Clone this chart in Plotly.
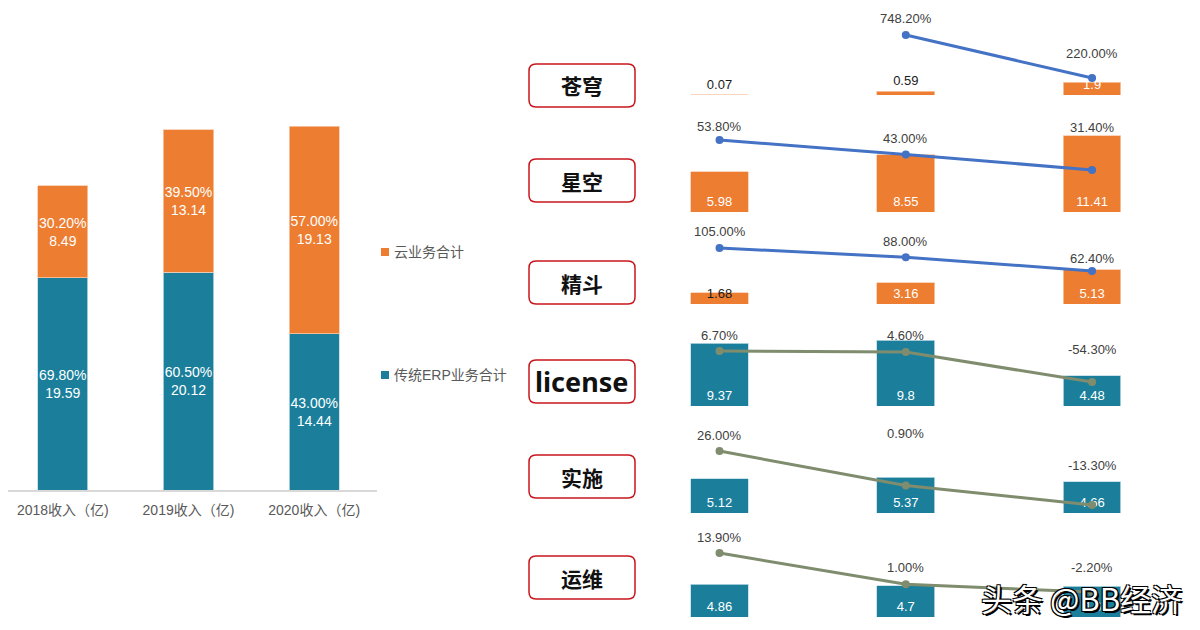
import plotly.graph_objects as go

# ---- left: stacked revenue bars ----
years = ["2018收入（亿)", "2019收入（亿)", "2020收入（亿)"]
erp_rev = [19.59, 20.12, 14.44]
erp_pct = ["69.80%", "60.50%", "43.00%"]
cloud_rev = [8.49, 13.14, 19.13]
cloud_pct = ["30.20%", "39.50%", "57.00%"]
legend_names = ["云业务合计", "传统ERP业务合计"]

# ---- right: product lines ----
products = ["苍穹", "星空", "精斗", "license", "实施", "运维"]
periods = ["2018", "2019", "2020"]
cangqiong_rev = [0.07, 0.59, 1.9]
cangqiong_growth = [None, 748.2, 220.0]
xingkong_rev = [5.98, 8.55, 11.41]
xingkong_growth = [53.8, 43.0, 31.4]
jingdou_rev = [1.68, 3.16, 5.13]
jingdou_growth = [105.0, 88.0, 62.4]
license_rev = [9.37, 9.8, 4.48]
license_growth = [6.7, 4.6, -54.3]
shishi_rev = [5.12, 5.37, 4.66]
shishi_growth = [26.0, 0.9, -13.3]
yunwei_rev = [4.86, 4.7, 4.6]
yunwei_growth = [13.9, 1.0, -2.2]

ORANGE = "#ED7D31"
TEAL = "#1B7F9C"
BLUE = "#4472C4"
SAGE = "#7F8C6D"
OFF = 8                      # page body margin
W, H = 1200 - OFF, 630 - OFF


def px_(p):
    return (p - OFF) / W


def py(p):
    # screen pixel row -> paper fraction
    return 1 - (p - OFF) / H


fig = go.Figure()

fig.add_trace(go.Bar(
    x=years, y=erp_rev, name=legend_names[1], marker_color=TEAL, width=0.4,
    marker_line=dict(color="#BFDCE6", width=0.8),
    text=[f"{p}<br>{v}" for p, v in zip(erp_pct, erp_rev)],
    textposition="inside", insidetextanchor="middle", constraintext="none",
    textangle=0, textfont=dict(color="white", size=14),
    xaxis="x", yaxis="y",
))
fig.add_trace(go.Bar(
    x=years, y=cloud_rev, name=legend_names[0], marker_color=ORANGE, width=0.4,
    marker_line=dict(color="#F8CBAD", width=0.8),
    text=[f"{p}<br>{v}" for p, v in zip(cloud_pct, cloud_rev)],
    textposition="inside", insidetextanchor="middle", constraintext="none",
    textangle=0, textfont=dict(color="white", size=14),
    xaxis="x", yaxis="y",
))

# rev, growth, bar colour, line colour, baseline px, growth-axis range,
# bar text position, growth label shift (px)
rows = [
    (cangqiong_rev, cangqiong_growth, ORANGE, BLUE, 95, [11.2, 1055],
     ["outside", "outside", "inside"], [-16, -16, -24]),
    (xingkong_rev, xingkong_growth, ORANGE, BLUE, 212, [0, 63.5],
     ["inside"] * 3, [-13, -16, -42]),
    (jingdou_rev, jingdou_growth, ORANGE, BLUE, 304, [1.3, 158.7],
     ["inside"] * 3, [-17, -16, -13]),
    (license_rev, license_growth, TEAL, SAGE, 406, [-101.5, 65.8],
     ["inside"] * 3, [-16, -17, -33]),
    (shishi_rev, shishi_growth, TEAL, SAGE, 513, [-19.1, 42.8],
     ["inside"] * 3, [-16, -52, -40]),
    (yunwei_rev, yunwei_growth, TEAL, SAGE, 617, [-12.5, 22.6],
     ["inside"] * 3, [-16, -17, -25]),
]
ROW_H = 85
PX_PER_UNIT = 6.7
box_tops = [64, 159, 261, 360, 455, 556]

layout_axes = {}
annotations = []
shapes = []
for i, (rev, growth, bar_c, line_c, base, lrange, tpos, shifts) in enumerate(rows):
    ya = f"y{2 * i + 2}"
    yl = f"y{2 * i + 3}"
    dom = [py(base), py(base - ROW_H)]
    txt_col = ["#1a1a1a" if v < 1.8 else "white" for v in rev]
    edge = "#F8CBAD" if bar_c == ORANGE else "#BFDCE6"
    fig.add_trace(go.Bar(
        x=periods, y=rev, marker_color=bar_c, width=0.31,
        marker_line=dict(color=edge, width=0.8),
        text=[str(v) for v in rev], textposition=tpos, textangle=0,
        insidetextanchor="start", constraintext="none", cliponaxis=False,
        textfont=dict(color=txt_col, size=13), showlegend=False,
        xaxis="x2", yaxis=ya,
    ))
    fig.add_trace(go.Scatter(
        x=periods, y=growth, mode="lines+markers", showlegend=False,
        line=dict(color=line_c, width=3), marker=dict(color=line_c, size=8),
        cliponaxis=False, xaxis="x2", yaxis=yl,
    ))
    layout_axes[f"yaxis{2 * i + 2}"] = dict(
        domain=dom, range=[0, ROW_H / PX_PER_UNIT], anchor="x2", visible=False)
    layout_axes[f"yaxis{2 * i + 3}"] = dict(
        domain=dom, range=lrange, anchor="x2", overlaying=ya, visible=False)
    for k, (g, s) in enumerate(zip(growth, shifts)):
        if g is None:
            continue
        annotations.append(dict(
            x=k, y=g, xref="x2", yref=yl, text=f"{g:.2f}%", showarrow=False,
            yshift=-s, font=dict(size=13, color="#404040")))

    # rounded label box
    x0, x1 = px_(529), px_(635)
    y0, y1 = py(box_tops[i]), py(box_tops[i] + 43)
    rx, ry = 7 / W, 7 / H
    shapes.append(dict(
        type="path", xref="paper", yref="paper",
        path=(f"M {x0 + rx} {y0} L {x1 - rx} {y0} Q {x1} {y0} {x1} {y0 - ry} "
              f"L {x1} {y1 + ry} Q {x1} {y1} {x1 - rx} {y1} "
              f"L {x0 + rx} {y1} Q {x0} {y1} {x0} {y1 + ry} "
              f"L {x0} {y0 - ry} Q {x0} {y0} {x0 + rx} {y0} Z"),
        line=dict(color="#C8161D", width=1.5), fillcolor="white", layer="below"))
    is_latin = products[i] == "license"
    annotations.append(dict(
        x=(x0 + x1) / 2, y=(y0 + y1) / 2, xref="paper", yref="paper",
        xanchor="center", yanchor="middle",
        text=f"<b>{products[i]}</b>", showarrow=False,
        font=dict(size=27 if is_latin else 21, color="#111111",
                  family=("Noto Sans, sans-serif" if is_latin
                          else "Noto Sans CJK SC, sans-serif"))))

# legend drawn by hand: small squares + labels
for name, col, cy in [(legend_names[0], ORANGE, 252), (legend_names[1], TEAL, 375)]:
    shapes.append(dict(type="rect", xref="paper", yref="paper",
                       x0=px_(381), x1=px_(389), y0=py(cy - 4), y1=py(cy + 4),
                       fillcolor=col, line_width=0))
    annotations.append(dict(x=px_(392), y=py(cy), xref="paper", yref="paper",
                            xanchor="left", yanchor="middle", text=name,
                            showarrow=False, font=dict(size=14, color="#595959")))

annotations.append(dict(
    x=px_(1081), y=py(597), xref="paper", yref="paper", text="头条 @BB经济",
    xanchor="center", yanchor="middle", showarrow=False,
    font=dict(size=31, color="white", family="Noto Sans CJK SC, sans-serif",
              shadow="-1px -1px 0 #000, 1px -1px 0 #000, -1px 1px 0 #000, 2px 2px 0 #000")))

fig.update_layout(
    width=W, height=H,
    margin=dict(l=0, r=0, t=0, b=0),
    paper_bgcolor="white", plot_bgcolor="white",
    barmode="stack", showlegend=False,
    font=dict(family="Liberation Sans, Arial, Noto Sans CJK SC, sans-serif", color="#595959"),
    xaxis=dict(domain=[0, px_(377)], range=[-0.436, 2.5], anchor="y",
               showline=True, linecolor="#D9D9D9", linewidth=1.5,
               ticks="", ticklabelstandoff=6, tickfont=dict(size=14, color="#595959")),
    yaxis=dict(domain=[py(490), py(100)], range=[0, 36], visible=False),
    xaxis2=dict(domain=[px_(626.4), px_(1185.2)], range=[-0.5, 2.5], type="category",
                anchor="y2", visible=False),
    annotations=annotations,
    shapes=shapes,
    **layout_axes,
)

fig.write_html("out.html")
